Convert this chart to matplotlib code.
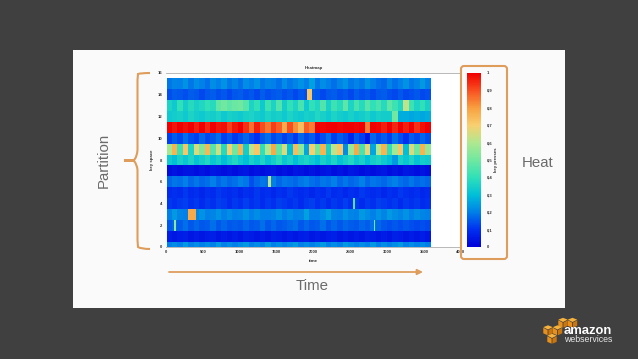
import matplotlib
matplotlib.use("Agg")
import numpy as np
import matplotlib.pyplot as plt
from matplotlib.colors import LinearSegmentedColormap, Normalize
from matplotlib.cm import ScalarMappable
from matplotlib.patches import FancyBboxPatch, Polygon, Rectangle
from matplotlib.path import Path
from matplotlib.patches import PathPatch

plt.rcParams['font.family'] = ['Liberation Sans', 'DejaVu Sans']

# Heat values per key-space row, read left to right across time (0..~3590)
row00 = [.20,.22,.20,.24,.20,.22,.20,.22,.20,.24,.20,.22,.20,.22,.24,.20,.22,.20,.24,.20,.22,.20,.22,.24,.20,.22,.20,.22,.24,.20,.22,.20,.24,.22,.20,.22,.20,.24,.20,.22,.20,.22,.24,.20,.22,.20,.22,.20]
row01 = [.06,.05,.06,.07,.05,.06,.05,.06,.07,.05,.06,.05,.06,.05,.07,.06,.05,.06,.05,.07,.06,.05,.06,.05,.06,.07,.05,.06,.05,.06,.07,.05,.06,.05,.06,.05,.07,.06,.05,.06,.05,.07,.06,.05,.06,.05,.06,.05]
row02 = [.15,.17,.16,.18,.15,.17,.15,.16,.18,.15,.17,.15,.16,.15,.17,.15,.16,.18,.15,.17,.15,.16,.17,.18,.15,.17,.15,.16,.18,.15,.17,.15,.17,.16,.15,.17,.16,.18,.17,.15,.14,.15,.14,.15,.14,.13,.14,.13]
row03 = [.20,.24,.21,.20,.22,.21,.23,.20,.21,.23,.20,.22,.20,.21,.23,.20,.22,.20,.20,.21,.23,.20,.22,.20,.21,.25,.20,.20,.22,.25,.21,.20,.23,.21,.20,.24,.22,.20,.23,.21,.24,.22,.21,.23,.20,.22,.21,.20]
row04 = [.11,.10,.11,.12,.10,.11,.09,.11,.10,.12,.11,.09,.11,.10,.12,.10,.11,.09,.11,.10,.12,.11,.10,.11,.09,.11,.12,.10,.11,.09,.11,.10,.12,.10,.11,.09,.11,.10,.12,.11,.10,.11,.09,.11,.10,.11,.09,.10]
row05 = [.09,.10,.09,.11,.09,.10,.08,.10,.09,.11,.10,.09,.10,.08,.10,.09,.11,.09,.10,.08,.10,.09,.11,.10,.09,.10,.08,.10,.09,.11,.09,.10,.08,.10,.09,.11,.10,.09,.10,.08,.10,.09,.11,.10,.09,.10,.08,.09]
row06 = [.17,.19,.18,.20,.17,.19,.17,.18,.20,.17,.19,.17,.18,.20,.19,.14,.17,.19,.18,.20,.17,.19,.18,.17,.19,.20,.18,.17,.19,.18,.20,.17,.19,.17,.18,.20,.17,.19,.18,.17,.19,.20,.18,.17,.19,.17,.18,.17]
row07 = [.03,.04,.03,.04,.04,.03,.04,.03,.05,.04,.03,.04,.03,.04,.05,.03,.04,.03,.04,.05,.03,.04,.03,.05,.04,.03,.04,.03,.04,.05,.03,.04,.03,.05,.04,.03,.04,.03,.04,.05,.03,.04,.03,.05,.04,.03,.04,.03]
row08 = [.33,.30,.35,.32,.36,.31,.34,.37,.32,.35,.30,.34,.37,.33,.30,.35,.32,.36,.31,.34,.38,.32,.35,.30,.34,.36,.33,.30,.35,.32,.36,.31,.34,.37,.32,.35,.30,.34,.36,.33,.30,.24,.35,.32,.36,.31,.34,.33]
row09 = [.58,.76,.42,.72,.36,.66,.52,.75,.46,.64,.38,.70,.50,.76,.34,.62,.72,.40,.60,.78,.48,.66,.30,.74,.55,.26,.70,.50,.76,.36,.62,.72,.22,.56,.78,.44,.68,.26,.60,.76,.40,.58,.72,.30,.66,.50,.76,.56]
row10 = [.12,.16,.13,.18,.14,.12,.17,.13,.15,.18,.12,.15,.11,.14,.17,.13,.10,.15,.18,.13,.16,.12,.15,.11,.17,.13,.16,.10,.14,.18,.12,.16,.13,.08,.15,.12,.05,.17,.13,.16,.12,.18,.14,.10,.16,.13,.17,.14]
row11 = [1.0,.97,1.0,.98,1.0,.96,1.0,.95,1.0,.97,.98,.92,.97,1.0,.94,.86,.96,.90,.85,.92,.88,.78,.90,.82,.74,.88,.84,1.0,.99,1.0,1.0,.99,1.0,1.0,.99,1.0,.84,1.0,.99,.96,1.0,.95,1.0,.96,1.0,.94,.98,1.0]
row12 = [.33,.34,.35,.33,.36,.34,.33,.35,.34,.36,.33,.35,.34,.33,.35,.36,.34,.33,.36,.34,.35,.33,.36,.34,.33,.35,.34,.37,.35,.33,.36,.34,.33,.35,.33,.34,.36,.33,.35,.34,.34,.50,.27,.27,.26,.27,.26,.27]
row13 = [.36,.33,.40,.34,.38,.35,.37,.40,.38,.48,.50,.47,.49,.50,.46,.36,.40,.33,.42,.36,.45,.34,.40,.36,.44,.33,.40,.37,.45,.35,.42,.38,.47,.36,.43,.38,.46,.40,.44,.38,.47,.42,.37,.62,.42,.36,.40,.35]
row14 = [.14,.16,.15,.14,.16,.15,.13,.15,.16,.14,.15,.13,.15,.16,.14,.15,.13,.16,.14,.15,.16,.14,.15,.13,.15,.14,.16,.15,.13,.15,.16,.14,.15,.13,.16,.14,.15,.13,.15,.16,.14,.13,.15,.13,.14,.15,.13,.14]
row15 = [.19,.21,.20,.23,.19,.22,.20,.18,.22,.20,.23,.19,.21,.18,.22,.20,.23,.19,.21,.20,.18,.22,.19,.21,.23,.20,.25,.19,.22,.20,.18,.21,.23,.19,.21,.19,.23,.20,.18,.17,.21,.18,.20,.23,.19,.21,.24,.20]
heat_rows = [row00,row01,row02,row03,row04,row05,row06,row07,row08,row09,row10,row11,row12,row13,row14,row15]

# Narrow hot bursts: time, key-space row, heat, duration
burst_time = [120, 350, 1400, 1950, 2550, 2830]
burst_row = [2, 3, 6, 14, 4, 2]
burst_heat = [.55, .78, .62, .72, .45, .50]
burst_dur = [30, 110, 35, 70, 20, 20]

x_ticks = [0,500,1000,1500,2000,2500,3000,3500,4000]
y_ticks = [0,2,4,6,8,10,12,14,16]
cbar_ticks = [0,.1,.2,.3,.4,.5,.6,.7,.8,.9,1]
cbar_labels = ['0','0,1','0,2','0,3','0,4','0,5','0,6','0,7','0,8','0,9','1']
data_end = 3590

W, H = 638, 359
DARK = '#404040'
ORANGE = '#df9d5c'
GRAY = '#6b6b6b'
INK = '#333333'

fig = plt.figure(figsize=(W/100, H/100), dpi=100, facecolor=DARK)
bg = fig.add_axes([0, 0, 1, 1], zorder=0)
bg.set_xlim(0, W); bg.set_ylim(H, 0); bg.axis('off')
bg.add_patch(Rectangle((73, 50), 492, 258, fc='#fafafa', ec='none'))

def px_axes(x0, y0, x1, y1, z=2):
    return fig.add_axes([x0/W, 1-y1/H, (x1-x0)/W, (y1-y0)/H], zorder=z)

cmap = LinearSegmentedColormap.from_list('heat', [
    (0.00, '#0000d8'), (0.10, '#0030f0'), (0.20, '#0080e8'), (0.30, '#00c0d8'),
    (0.40, '#30e0b8'), (0.50, '#70e8a0'), (0.60, '#b0e890'), (0.70, '#f8d070'),
    (0.80, '#f8a040'), (0.90, '#f85020'), (1.00, '#f00000')])
norm = Normalize(0, 1)

ax = px_axes(166, 73, 461, 247)
ax.set_facecolor('white')
t_edges = np.linspace(0, data_end, len(row00)+1)
y_edges = np.arange(len(heat_rows)+1) - 0.5
ax.pcolormesh(t_edges, y_edges, np.array(heat_rows), cmap=cmap, norm=norm)
ax.bar(burst_time, [1]*len(burst_time), bottom=[r-.5 for r in burst_row], width=burst_dur,
       color=cmap(norm(burst_heat)), linewidth=0)
ax.set_xlim(0, 4000); ax.set_ylim(0, 16)
ax.set_xticks(x_ticks); ax.set_yticks(y_ticks)
ax.tick_params(labelsize=3, length=0, pad=2.5, colors=INK)
for lab in ax.get_xticklabels()+ax.get_yticklabels():
    lab.set_fontweight('bold')
for s in ax.spines.values():
    s.set_color('#b8b8b8'); s.set_linewidth(0.7)
ax.spines['left'].set_color('#ffffff')
ax.spines['right'].set_color('#ffffff')
ax.set_title('Heatmap', fontsize=3.2, color=INK, fontweight='bold', pad=3)
ax.set_xlabel('time', fontsize=3.2, color=INK, fontweight='bold', labelpad=3)
ax.set_ylabel('key space', fontsize=3.2, color=INK, fontweight='bold', labelpad=3)

cax = px_axes(467, 73, 481, 247)
cb = fig.colorbar(ScalarMappable(norm=norm, cmap=cmap), cax=cax)
cb.set_ticks(cbar_ticks, labels=cbar_labels)
cb.ax.tick_params(labelsize=3, length=0, pad=4, colors=INK)
for lab in cb.ax.get_yticklabels():
    lab.set_fontweight('bold')
cb.outline.set_visible(False)
cb.set_label('key presses', fontsize=3.2, color=INK, fontweight='bold', labelpad=1)

top = fig.add_axes([0, 0, 1, 1], zorder=3)
top.set_xlim(0, W); top.set_ylim(H, 0); top.axis('off'); top.patch.set_alpha(0)

# Partition brace
brace = Path([(150,73),(141,73),(138,74),(137.5,80),(137.5,150),(137,157),(134,160),(124,160.5),
              (134,161),(137,164),(137.5,170),(137.5,240),(138,247),(141,249),(150,249)],
             [Path.MOVETO,Path.CURVE3,Path.CURVE3,Path.LINETO,Path.LINETO,Path.CURVE3,Path.CURVE3,Path.LINETO,
              Path.LINETO,Path.CURVE3,Path.CURVE3,Path.LINETO,Path.LINETO,Path.CURVE3,Path.CURVE3])
top.add_patch(PathPatch(brace, fc='none', ec=ORANGE, lw=1.5))
top.add_patch(FancyBboxPatch((461, 66), 46, 193, boxstyle='round,pad=0,rounding_size=3',
                             fc='none', ec=ORANGE, lw=1.5))
top.annotate('', xy=(423, 272), xytext=(169, 272),
             arrowprops=dict(arrowstyle='-|>', color=ORANGE, lw=1.3, mutation_scale=8, shrinkA=0, shrinkB=0))
top.text(312, 286, 'Time', color=GRAY, fontsize=10.8, ha='center', va='center')
top.text(104, 160, 'Partition', color=GRAY, fontsize=10.8, ha='center', va='center', rotation=90)
top.text(537.5, 163, 'Heat', color=GRAY, fontsize=10.8, ha='center', va='center')

# Logo
def cube(cx, cy, s=4.7):
    h = s*0.5
    top.add_patch(Polygon([(cx-s,cy-h),(cx,cy-2*h+.5),(cx+s,cy-h),(cx,cy)], fc='#f7b23c', ec='none'))
    top.add_patch(Polygon([(cx-s,cy-h+.6),(cx-.4,cy+.6),(cx-.4,cy+s+1),(cx-s,cy+s-h+1.5)], fc='#e8901c', ec='none'))
    top.add_patch(Polygon([(cx+s,cy-h+.6),(cx+.4,cy+.6),(cx+.4,cy+s+1),(cx+s,cy+s-h+1.5)], fc='#c9760f', ec='none'))
for c in [(563,322),(572.5,322),(548,329.5),(557.5,329.5),(552,338)]:
    cube(*c)
top.text(564, 331, 'amazon', color='white', fontsize=9.4, fontweight='bold', ha='left', va='center', zorder=5)
top.text(564, 340, 'webservices', color='#e8e8e8', fontsize=6.3, ha='left', va='center')

fig.savefig('out.png', dpi=100, facecolor=DARK)
